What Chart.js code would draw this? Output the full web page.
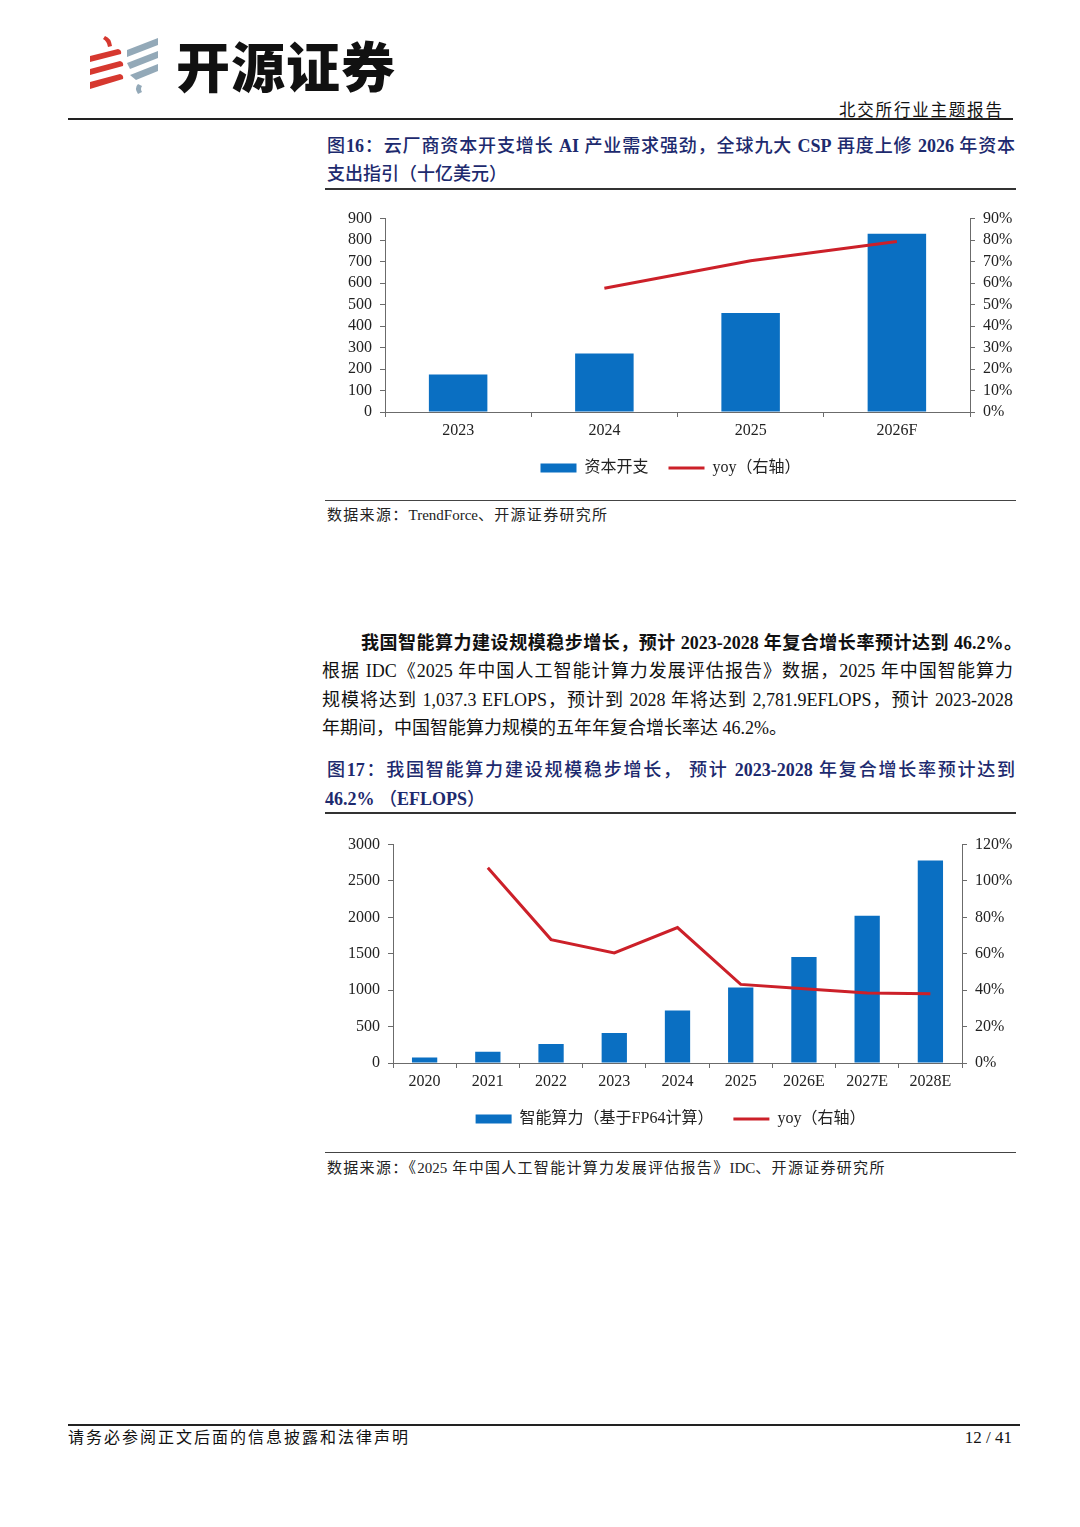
<!DOCTYPE html>
<html>
<head>
<meta charset="utf-8">
<script src="https://cdn.jsdelivr.net/npm/chart.js@4.4.1/dist/chart.umd.min.js"></script>
<style>
  html, body { margin: 0; padding: 0; background: #fff; }
  body { width: 1080px; height: 1527px; position: relative; overflow: hidden;
         font-family: "Liberation Serif", "Noto Sans CJK SC", serif; color: #111; }
  .abs { position: absolute; }
  .rule { position: absolute; background: #222; }
  .jl { position: absolute; white-space: nowrap; text-align: justify; text-align-last: justify; }
  .title { color: #1d2a6e; font-size: 18px; font-weight: 500; }
  .title b { font-weight: bold; }
  .para { font-size: 18px; }
  .src { font-size: 15px; color: #222; letter-spacing: 1.3px; }
  .src i { font-style: normal; letter-spacing: 0; }
  .box { position: absolute; }
</style>
</head>
<body>

<!-- header / logo -->
<svg class="abs" style="left:86px;top:32px" width="80" height="66" viewBox="0 0 80 66">
  <g fill="#d6382f">
    <path d="M19 4 q6 2 7 10 l-4 1 q-1 -6 -5 -8 z"/>
    <path d="M4 24 L32 17 q4 1 3 5 L4 30 z"/>
    <path d="M4 37 L34 29 q4 1 3 5 L4 43 z"/>
    <path d="M4 50 L34 42 q4 1 3 5 L4 57 z"/>
  </g>
  <g fill="#93a9b8">
    <path d="M41 18 L72 6 l0 7 L41 25 z"/>
    <path d="M41 31 L72 19 l0 7 L44 37 z"/>
    <path d="M44 43 L72 32 l0 7 L50 48 z"/>
    <path d="M52 52 q-4 4 0 10 l4 -2 q-2 -3 0 -6 z"/>
  </g>
</svg>
<div class="abs" style="left:176px;top:30px;font-family:'Noto Sans CJK SC';font-weight:900;font-size:54px;line-height:70px;letter-spacing:1px;color:#111">开源证券</div>
<div class="abs" style="left:839px;top:98px;font-family:'Noto Sans CJK SC';font-size:16.5px;line-height:22px;letter-spacing:1.8px">北交所行业主题报告</div>
<div class="rule" style="left:68px;top:118px;width:945px;height:2px"></div>

<!-- figure 16 -->
<div class="jl title" style="left:327px;top:134px;width:688px;line-height:24px">图<b>16</b>：云厂商资本开支增长 <b>AI</b> 产业需求强劲，全球九大 <b>CSP</b> 再度上修 <b>2026</b> 年资本</div>
<div class="abs title" style="left:327px;top:162px;line-height:24px">支出指引（十亿美元）</div>
<div class="rule" style="left:325px;top:188px;width:691px;height:1.5px;background:#333"></div>

<div class="box" style="left:325px;top:201px;width:691px;height:285px"><canvas id="capexChart"></canvas></div>

<div class="rule" style="left:325px;top:500px;width:691px;height:1px;background:#444"></div>
<div class="abs src" style="left:327px;top:505px;line-height:20px">数据来源：<i>TrendForce</i>、开源证券研究所</div>

<!-- paragraph -->
<div class="jl para" style="left:361px;top:630px;width:661px;line-height:26px"><b>我国智能算力建设规模稳步增长，预计 2023-2028 年复合增长率预计达到 46.2%。</b></div>
<div class="jl para" style="left:322px;top:658px;width:691px;line-height:26px">根据 IDC《2025 年中国人工智能计算力发展评估报告》数据，2025 年中国智能算力</div>
<div class="jl para" style="left:322px;top:687px;width:691px;line-height:26px">规模将达到 1,037.3 EFLOPS，预计到 2028 年将达到 2,781.9EFLOPS，预计 2023-2028</div>
<div class="abs para" style="left:322px;top:715px;line-height:26px;white-space:nowrap">年期间，中国智能算力规模的五年年复合增长率达 46.2%。</div>

<!-- figure 17 -->
<div class="jl title" style="left:327px;top:758px;width:688px;line-height:24px">图<b>17</b>：我国智能算力建设规模稳步增长， 预计 <b>2023-2028</b> 年复合增长率预计达到</div>
<div class="abs title" style="left:325px;top:787px;line-height:24px"><b>46.2%</b> （<b>EFLOPS</b>）</div>
<div class="rule" style="left:325px;top:812px;width:691px;height:1.5px;background:#333"></div>

<div class="box" style="left:325px;top:827px;width:691px;height:310px"><canvas id="computeChart"></canvas></div>

<div class="rule" style="left:325px;top:1152px;width:691px;height:1px;background:#444"></div>
<div class="abs src" style="left:327px;top:1158px;line-height:20px">数据来源：《<i>2025</i> 年中国人工智能计算力发展评估报告》<i>IDC</i>、开源证券研究所</div>

<!-- footer -->
<div class="rule" style="left:68px;top:1424px;width:952px;height:1.5px"></div>
<div class="abs" style="left:68px;top:1428px;font-size:16px;line-height:20px;letter-spacing:2px">请务必参阅正文后面的信息披露和法律声明</div>
<div class="abs" style="left:900px;top:1428px;width:112px;text-align:right;font-size:17px;line-height:20px">12 / 41</div>

<script>
// figure 16: capex of the nine big CSPs (bn USD) and yoy (%)
const capexYears = ['2023', '2024', '2025', '2026F'];
const capexValues = [174, 272, 461, 830];
const capexYoy = [null, 57.6, 70.4, 79.3];
const capexLeftTicks = [0, 100, 200, 300, 400, 500, 600, 700, 800, 900];
const capexRightTicks = [0, 10, 20, 30, 40, 50, 60, 70, 80, 90];

// figure 17: China intelligent compute (EFLOPS) and yoy (%)
const computeYears = ['2020', '2021', '2022', '2023', '2024', '2025', '2026E', '2027E', '2028E'];
const computeValues = [75, 156, 262, 413, 721, 1037.3, 1456, 2021, 2781.9];
const computeYoy = [null, 107.3, 67.8, 60.5, 74.4, 43.2, 40.8, 38.4, 38.0];
const computeLeftTicks = [0, 500, 1000, 1500, 2000, 2500, 3000];
const computeRightTicks = [0, 20, 40, 60, 80, 100, 120];

const BLUE = '#0a6fc2';
const RED = '#cc2029';
const AXIS = '#6b6b6b';

Chart.defaults.font.family = '"Liberation Serif", "Noto Sans CJK SC", serif';
Chart.defaults.font.size = 16;
Chart.defaults.color = '#222';

function fixedTicks(list) {
  return scale => { scale.ticks = list.map(v => ({ value: v })); };
}

function makeChart(id, cfg) {
  const ctx = document.getElementById(id).getContext('2d');
  return new Chart(ctx, {
    type: 'bar',
    data: {
      labels: cfg.labels,
      datasets: [{
        type: 'bar',
        label: cfg.barLabel,
        data: cfg.bars,
        backgroundColor: BLUE,
        borderWidth: 0,
        barPercentage: 0.4,
        categoryPercentage: 1,
        yAxisID: 'y',
        order: 1,
        pointStyle: 'rect'
      }, {
        type: 'line',
        label: 'yoy（右轴）',
        data: cfg.yoy,
        borderColor: RED,
        backgroundColor: RED,
        borderWidth: 3,
        pointRadius: 0,
        tension: 0,
        yAxisID: 'y1',
        order: 0,
        pointStyle: 'line'
      }]
    },
    options: {
      responsive: true,
      maintainAspectRatio: false,
      animation: false,
      layout: { padding: cfg.padding },
      plugins: {
        tooltip: { enabled: false },
        legend: {
          position: 'bottom',
          labels: {
            usePointStyle: true,
            pointStyleWidth: 36,
            boxWidth: 36,
            boxHeight: 9,
            padding: cfg.legendPad,
            sort: (a, b) => a.datasetIndex - b.datasetIndex,
            font: { size: 16 }
          }
        }
      },
      scales: {
        x: {
          grid: { drawOnChartArea: false, drawTicks: true, tickLength: 5, color: AXIS, offset: true },
          border: { color: AXIS, width: 1 },
          ticks: { padding: 4, maxRotation: 0, autoSkip: false },
          afterFit: s => { s.height = cfg.xHeight; }
        },
        y: {
          position: 'left',
          min: cfg.leftTicks[0],
          max: cfg.leftTicks[cfg.leftTicks.length - 1],
          afterBuildTicks: fixedTicks(cfg.leftTicks),
          grid: { drawOnChartArea: false, drawTicks: true, tickLength: 5, color: AXIS },
          border: { color: AXIS, width: 1 },
          ticks: { padding: 8, autoSkip: false, callback: v => String(v) },
          afterFit: s => { s.width = cfg.leftWidth; }
        },
        y1: {
          position: 'right',
          min: cfg.rightTicks[0],
          max: cfg.rightTicks[cfg.rightTicks.length - 1],
          afterBuildTicks: fixedTicks(cfg.rightTicks),
          grid: { drawOnChartArea: false, drawTicks: true, tickLength: 5, color: AXIS },
          border: { color: AXIS, width: 1 },
          ticks: { padding: 8, autoSkip: false, callback: v => v + '%' },
          afterFit: s => { s.width = cfg.rightWidth; }
        }
      }
    }
  });
}

makeChart('capexChart', {
  labels: capexYears,
  bars: capexValues,
  yoy: capexYoy,
  barLabel: '资本开支',
  leftTicks: capexLeftTicks,
  rightTicks: capexRightTicks,
  leftWidth: 60,
  rightWidth: 46,
  xHeight: 28,
  legendPad: 20,
  padding: { top: 15, bottom: 0, left: 0, right: 0 }
});

makeChart('computeChart', {
  labels: computeYears,
  bars: computeValues,
  yoy: computeYoy,
  barLabel: '智能算力（基于FP64计算）',
  leftTicks: computeLeftTicks,
  rightTicks: computeRightTicks,
  leftWidth: 68,
  rightWidth: 54,
  xHeight: 28,
  legendPad: 20,
  padding: { top: 13, bottom: 0, left: 0, right: 0 }
});
</script>
</body>
</html>
